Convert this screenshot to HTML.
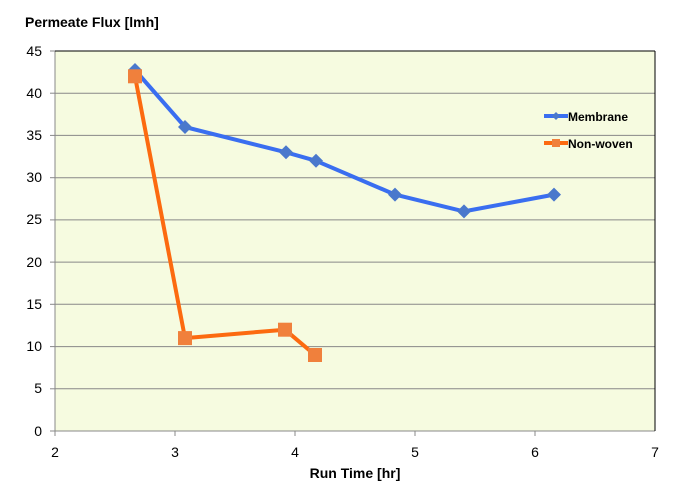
<!DOCTYPE html>
<html><head><meta charset="utf-8"><style>body{margin:0;background:#fff}svg{display:block}text{font-family:"Liberation Sans",sans-serif}</style></head><body>
<svg width="684" height="495" viewBox="0 0 684 495">
<rect x="55" y="51" width="600" height="380" fill="#f6fbe0"/>
<g stroke="#888" stroke-width="1">
<line x1="55" x2="655" y1="93.2" y2="93.2"/><line x1="55" x2="655" y1="135.4" y2="135.4"/>
<line x1="55" x2="655" y1="177.7" y2="177.7"/><line x1="55" x2="655" y1="219.9" y2="219.9"/>
<line x1="55" x2="655" y1="262.1" y2="262.1"/><line x1="55" x2="655" y1="304.3" y2="304.3"/>
<line x1="55" x2="655" y1="346.6" y2="346.6"/><line x1="55" x2="655" y1="388.8" y2="388.8"/>
<line x1="55" x2="55" y1="51" y2="431"/><line x1="50" x2="655" y1="431" y2="431"/>
<line x1="50" x2="55" y1="51" y2="51"/><line x1="50" x2="55" y1="93.2" y2="93.2"/><line x1="50" x2="55" y1="135.4" y2="135.4"/><line x1="50" x2="55" y1="177.7" y2="177.7"/><line x1="50" x2="55" y1="219.9" y2="219.9"/><line x1="50" x2="55" y1="262.1" y2="262.1"/><line x1="50" x2="55" y1="304.3" y2="304.3"/><line x1="50" x2="55" y1="346.6" y2="346.6"/><line x1="50" x2="55" y1="388.8" y2="388.8"/>
<line x1="175" x2="175" y1="431" y2="436"/><line x1="295" x2="295" y1="431" y2="436"/><line x1="415" x2="415" y1="431" y2="436"/><line x1="535" x2="535" y1="431" y2="436"/><line x1="55" x2="55" y1="431" y2="436"/>
</g>
<line x1="55" x2="655" y1="51" y2="51" stroke="#000"/>
<line x1="655" x2="655" y1="51" y2="431" stroke="#000"/>
<g font-size="14" fill="#000" text-anchor="end">
<text x="42" y="56">45</text><text x="42" y="98">40</text><text x="42" y="140">35</text><text x="42" y="182">30</text><text x="42" y="224">25</text><text x="42" y="267">20</text><text x="42" y="309">15</text><text x="42" y="351">10</text><text x="42" y="393">5</text><text x="42" y="436">0</text>
</g>
<g font-size="14" text-anchor="middle">
<text x="55" y="457">2</text><text x="175" y="457">3</text><text x="295" y="457">4</text><text x="415" y="457">5</text><text x="535" y="457">6</text><text x="655" y="457">7</text>
</g>
<text x="355" y="478" font-size="14" font-weight="bold" text-anchor="middle">Run Time [hr]</text>
<text x="25" y="27" font-size="14" font-weight="bold">Permeate Flux [lmh]</text>
<polyline fill="none" stroke="#3a6ef0" stroke-width="4" stroke-linejoin="round" points="135,70 185,127 286,152.3 316,160.8 395,194.6 464,211.4 554,194.6"/>
<g fill="#4a78cc">
<path d="M135,63l7,7-7,7-7-7z"/><path d="M185,120l7,7-7,7-7-7z"/><path d="M286,145.3l7,7-7,7-7-7z"/><path d="M316,153.8l7,7-7,7-7-7z"/><path d="M395,187.6l7,7-7,7-7-7z"/><path d="M464,204.4l7,7-7,7-7-7z"/><path d="M554,187.6l7,7-7,7-7-7z"/>
</g>
<polyline fill="none" stroke="#fc6a10" stroke-width="4" stroke-linejoin="round" points="135,76.3 185,338.1 285,329.7 315,355"/>
<g fill="#f0803c">
<rect x="128" y="69.3" width="14" height="14"/><rect x="178" y="331.1" width="14" height="14"/><rect x="278" y="322.7" width="14" height="14"/><rect x="308" y="348" width="14" height="14"/>
</g>
<line x1="544" x2="568" y1="116" y2="116" stroke="#3a6ef0" stroke-width="4"/>
<path d="M556,112l4,4-4,4-4-4z" fill="#4a78cc"/>
<text x="568" y="121" font-size="12" font-weight="bold">Membrane</text>
<line x1="544" x2="568" y1="143" y2="143" stroke="#fc6a10" stroke-width="4"/>
<rect x="552" y="139" width="8" height="8" fill="#f0803c"/>
<text x="568" y="148" font-size="12" font-weight="bold">Non-woven</text>
</svg>
</body></html>
